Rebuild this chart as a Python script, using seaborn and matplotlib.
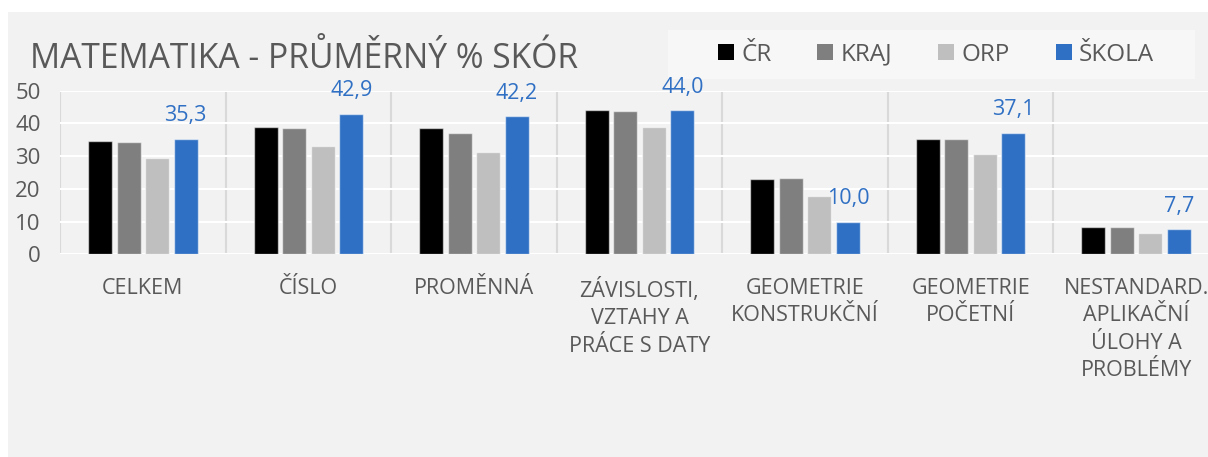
import numpy as np
import pandas as pd
import matplotlib
matplotlib.use("Agg")
import matplotlib.pyplot as plt
from matplotlib.patches import Rectangle, Patch
import seaborn as sns

categories = ["CELKEM", "ČÍSLO", "PROMĚNNÁ", "ZÁVISLOSTI,\nVZTAHY A\nPRÁCE S DATY",
              "GEOMETRIE\nKONSTRUKČNÍ", "GEOMETRIE\nPOČETNÍ",
              "NESTANDARD.\nAPLIKAČNÍ\nÚLOHY A\nPROBLÉMY"]
series = ["ČR", "KRAJ", "ORP", "ŠKOLA"]
cr = [34.6, 38.8, 38.5, 44.2, 22.9, 35.1, 8.2]
kraj = [34.3, 38.5, 37.0, 43.8, 23.4, 35.1, 8.4]
orp = [29.5, 33.0, 31.4, 39.0, 17.9, 30.8, 6.6]
skola = [35.3, 42.9, 42.2, 44.0, 10.0, 37.1, 7.7]
yticks = [0, 10, 20, 30, 40, 50]
title = "MATEMATIKA - PRŮMĚRNÝ % SKÓR"

colors = ["#000000", "#7f7f7f", "#bfbfbf", "#3070c4"]
txt = "#595959"

rows = []
for s, vals in zip(series, [cr, kraj, orp, skola]):
    for c, v in zip(categories, vals):
        rows.append({"cat": c, "series": s, "val": v})
df = pd.DataFrame(rows)

sns.set_theme(style="white")
plt.rcParams["font.family"] = ["Open Sans", "DejaVu Sans"]

W, H = 1208, 457
fig = plt.figure(figsize=(W / 100, H / 100), dpi=100, facecolor="white")
fig.patches.append(Rectangle((8 / W, 0), 1, 1 - 12 / H, transform=fig.transFigure,
                             facecolor="#f2f2f2", edgecolor="none", zorder=-10))
fig.patches.append(Rectangle((668 / W, 1 - 78.7 / H), 527 / W, 48.2 / H,
                             transform=fig.transFigure, facecolor="#f7f7f7",
                             edgecolor="none", zorder=-5))

ax = fig.add_axes([60 / W, (H - 254.3) / H, 1159 / W, 163.6 / H])
ax.set_facecolor("none")
sns.barplot(data=df, x="cat", y="val", hue="series", hue_order=series,
            order=categories, palette=colors, width=0.69, gap=0.16,
            edgecolor=(1, 1, 1, 0.55), linewidth=1, saturation=1, ax=ax,
            legend=False, zorder=3)

ax.set_xlim(-0.5, 6.5)
ax.set_ylim(0, 50)
ax.set_yticks(yticks)
ax.set_xlabel("")
ax.set_ylabel("")
for sp in ax.spines.values():
    sp.set_visible(False)
ax.set_xticks(np.arange(-0.5, 7, 1), minor=True)
ax.grid(which="minor", axis="x", color="#d9d9d9", linewidth=1.5, zorder=1)
ax.grid(which="major", axis="y", color="white", linewidth=1.5, zorder=1)
ax.grid(which="major", axis="x", visible=False)
ax.set_axisbelow(True)
ax.tick_params(axis="both", which="both", length=0)
ax.tick_params(axis="y", labelsize=16, labelcolor=txt, pad=14)
ax.tick_params(axis="x", labelsize=15.5, labelcolor=txt, pad=17)
for lab in ax.get_xticklabels():
    lab.set_multialignment("center")
    lab.set_linespacing(1.4)

cont = ax.containers[3]
ax.bar_label(cont, labels=[f"{v:.1f}".replace(".", ",") for v in skola],
             padding=9, color=colors[3], fontsize=15.5)

fig.text(30 / W, 1 - 68 / H, title, fontsize=24.2, color=txt, va="baseline", ha="left")

handles = [Patch(facecolor=c, edgecolor="none") for c in colors]
ax.legend(handles, series, loc="center", bbox_to_anchor=(936 / W, 1 - 54.6 / H),
          bbox_transform=fig.transFigure, ncol=4, frameon=False, fontsize=17.5,
          handlelength=0.65, handleheight=0.65, handletextpad=0.3,
          columnspacing=1.9, labelcolor=txt)

fig.savefig("out.png", dpi=100, facecolor="white")
